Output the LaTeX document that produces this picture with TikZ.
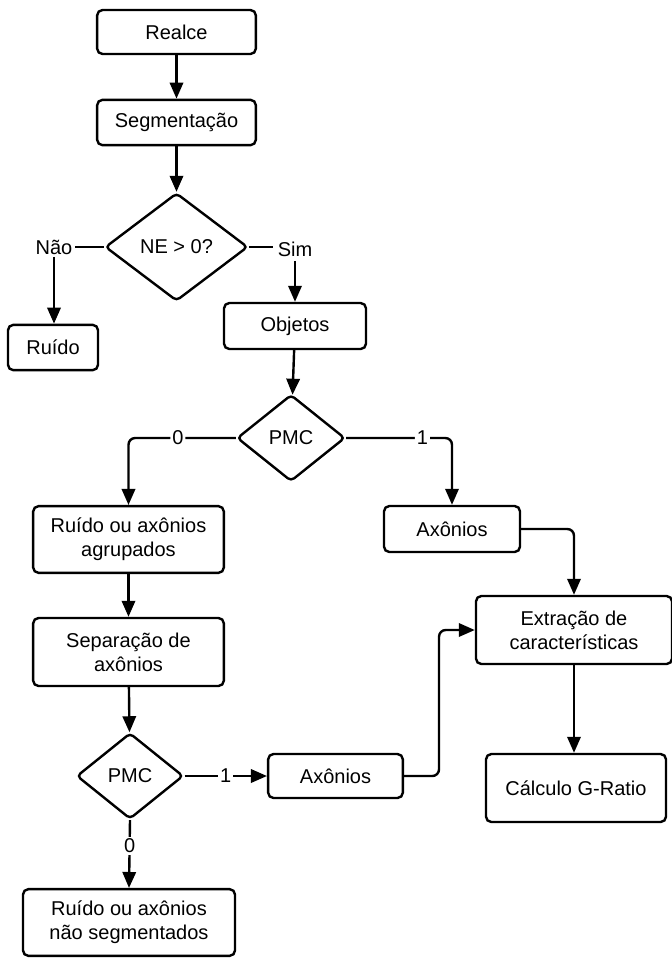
\documentclass[tikz,border=0pt]{standalone}
\usepackage{fontspec}
\setmainfont{Liberation Sans}
\usetikzlibrary{arrows.meta,shapes.geometric}

\tikzset{
	caixa/.style={draw, rounded corners=4pt, align=center, inner sep=2pt},
	decisao/.style={draw, diamond, rounded corners=3pt, inner sep=0pt, aspect=1.3},
	rotulo/.style={fill=white, inner sep=1.5pt},
}

\begin{document}
\begin{tikzpicture}[x=0.75pt, y=-0.75pt, line width=1.8pt, >={Triangle[length=12pt,width=10pt]},
		font=\fontsize{15}{18}\selectfont]
	\useasboundingbox (0,0) rectangle (672,958);

	\node [caixa, minimum width=119pt, minimum height=33pt] (realce) at (176.5,32) {Realce};
	\node [caixa, minimum width=119pt, minimum height=34pt] (segm) at (176.5,122.5) {Segmentação};
	\node [decisao, minimum width=107pt, minimum height=81pt] (ne) at (176.5,247) {NE > 0?};
	\node [inner sep=1pt] (nao) at (54,247) {Não};
	\node [inner sep=2.5pt] (sim) at (295,249) {Sim};
	\node [caixa, minimum width=67.5pt, minimum height=34pt] (ruido) at (53,347.5) {Ruído};
	\node [caixa, minimum width=106.5pt, minimum height=34.5pt] (objetos) at (295,326) {Objetos};
	\node [decisao, minimum width=81pt, minimum height=65pt] (pmcA) at (291,438) {PMC};
	\node [caixa, minimum width=143pt, minimum height=50pt] (agrup) at (128.5,539.5) {Ruído ou axônios\\agrupados};
	\node [caixa, minimum width=102pt, minimum height=34.5pt] (axonA) at (452,529) {Axônios};
	\node [caixa, minimum width=143pt, minimum height=51pt] (separ) at (128.5,652) {Separação de\\axônios};
	\node [decisao, minimum width=80pt, minimum height=64.5pt] (pmcB) at (130,776) {PMC};
	\node [caixa, minimum width=101pt, minimum height=33pt] (axonB) at (335.5,776) {Axônios};
	\node [caixa, minimum width=159pt, minimum height=50pt] (naoseg) at (129,922.5) {Ruído ou axônios\\não segmentados};
	\node [caixa, minimum width=147pt, minimum height=51pt] (extr) at (574,630) {Extração de\\características};
	\node [caixa, minimum width=135pt, minimum height=51pt] (calc) at (576,788) {Cálculo G-Ratio};

	\draw [->] (realce) -- (segm);
	\draw [->] (segm) -- (ne);
	\draw (ne.west) -- (nao.east);
	\draw [->] (nao) -- (nao |- ruido.north);
	\draw (ne.east) -- (ne.east -| sim.west);
	\draw [->] (sim) -- (sim |- objetos.north);
	\draw [->] (objetos) -- (pmcA);

	\draw [->, rounded corners=5pt] (pmcA.west) -| node [rotulo, pos=0.27] {0} (agrup.north);
	\draw [->, rounded corners=5pt] (pmcA.east) -| node [rotulo, pos=0.36] {1} (axonA.north);
	\draw [->, rounded corners=5pt] (axonA.east) -| (extr.north);

	\draw [->] (agrup) -- (separ);
	\draw [->] (separ) -- (pmcB);
	\draw [->] (pmcB.east) -- node [rotulo] {1} (axonB.west);
	\draw [->] (pmcB.south) -- node [rotulo, pos=0.38] {0} (naoseg.north);
	\draw [->, rounded corners=5pt] (axonB.east) -- ++(35,0) |- (extr.west);
	\draw [->] (extr) -- (extr |- calc.north);
\end{tikzpicture}
\end{document}
